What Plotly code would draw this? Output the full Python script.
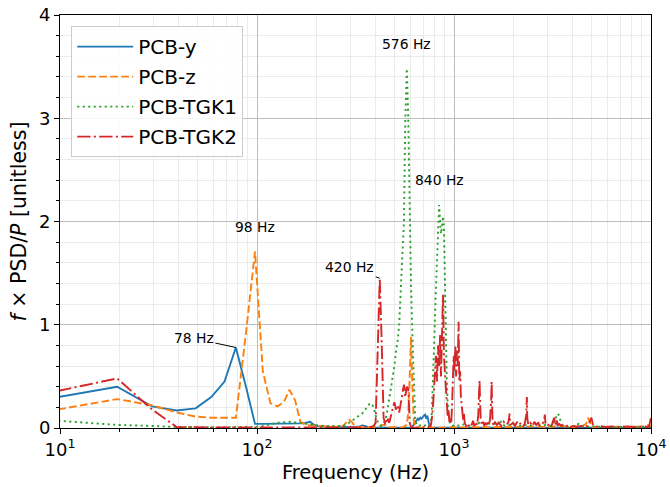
import math
import plotly.graph_objects as go

# (frequency [Hz], f x PSD / P) pairs for each channel
PCB_Y = [
    (9.8, 0.30), (19.5, 0.40), (29.3, 0.21), (39.1, 0.17), (48.8, 0.19), (58.6, 0.30),
    (68.4, 0.45), (78.1, 0.78), (87.9, 0.40), (97.7, 0.04), (107, 0.04), (117, 0.04),
    (127, 0.04), (137, 0.04), (146, 0.04), (156, 0.04), (166, 0.045), (176, 0.05),
    (186, 0.06), (195, 0.03), (205, 0.015), (225, 0.012), (254, 0.01), (283, 0.01),
    (312, 0.008), (332, 0.015), (342, 0.025), (352, 0.02), (361, 0.01), (371, 0.005),
    (391, 0.004), (430, 0.003), (488, 0.003), (547, 0.003), (605, 0.005), (615, 0.01),
    (625, 0.04), (635, 0.06), (645, 0.07), (654, 0.09), (664, 0.08), (674, 0.10),
    (684, 0.09), (693, 0.11), (703, 0.12), (713, 0.13), (723, 0.09), (732, 0.12),
    (742, 0.06), (752, 0.01), (762, 0.003), (859, 0.002), (1055, 0.002), (1500, 0.002),
    (2500, 0.002), (4000, 0.002), (6000, 0.002), (8000, 0.002), (10000, 0.002),
]

PCB_Z = [
    (9.8, 0.18), (19.5, 0.28), (29.3, 0.22), (39.1, 0.15), (48.8, 0.11), (58.6, 0.10),
    (68.4, 0.10), (78.1, 0.10), (87.9, 0.92), (97.7, 1.71), (107, 0.55), (117, 0.24),
    (127, 0.21), (137, 0.25), (146, 0.37), (156, 0.27), (166, 0.06), (176, 0.03),
    (186, 0.025), (205, 0.02), (225, 0.015), (244, 0.01), (264, 0.015), (273, 0.02),
    (283, 0.05), (293, 0.08), (303, 0.06), (312, 0.02), (322, 0.01), (342, 0.01),
    (371, 0.005), (400, 0.01), (420, 0.015), (430, 0.03), (439, 0.03), (449, 0.02),
    (469, 0.01), (508, 0.005), (547, 0.005), (576, 0.03), (586, 0.15), (596, 0.50),
    (605, 0.88), (615, 0.40), (625, 0.08), (635, 0.01), (664, 0.005), (723, 0.003),
    (801, 0.003), (898, 0.003), (1000, 0.005), (1250, 0.01), (1600, 0.008), (2000, 0.01),
    (2500, 0.015), (3000, 0.01), (3500, 0.02), (4000, 0.01), (4492, 0.02), (4688, 0.04),
    (4785, 0.10), (4883, 0.06), (4980, 0.02), (5078, 0.01), (5273, 0.005), (6000, 0.01),
    (7000, 0.008), (8000, 0.01), (9000, 0.015), (9800, 0.03), (10000, 0.01),
]

PCB_TGK1 = [
    (9.8, 0.07), (19.5, 0.03), (29.3, 0.02), (39.1, 0.01), (58.6, 0.008), (78.1, 0.008),
    (97.7, 0.01), (107, 0.02), (117, 0.035), (127, 0.05), (137, 0.055), (146, 0.06),
    (156, 0.055), (166, 0.05), (176, 0.04), (195, 0.03), (215, 0.02), (234, 0.02),
    (254, 0.015), (273, 0.02), (283, 0.03), (293, 0.05), (303, 0.07), (312, 0.08),
    (322, 0.10), (332, 0.12), (342, 0.14), (352, 0.17), (361, 0.20), (371, 0.23),
    (381, 0.24), (391, 0.20), (400, 0.12), (410, 0.06), (420, 0.03), (430, 0.02),
    (439, 0.04), (449, 0.08), (459, 0.17), (469, 0.28), (479, 0.40), (488, 0.50),
    (498, 0.60), (508, 0.75), (518, 0.85), (527, 1.00), (537, 1.30), (547, 1.60),
    (557, 2.00), (566, 3.00), (576, 3.48), (586, 3.00), (596, 2.00), (605, 1.40),
    (615, 0.90), (625, 0.40), (635, 0.10), (645, 0.03), (664, 0.02), (684, 0.03),
    (703, 0.02), (723, 0.03), (742, 0.02), (752, 0.03), (762, 0.05), (771, 0.14),
    (781, 0.40), (791, 0.75), (801, 1.10), (811, 1.40), (820, 1.75), (830, 1.95),
    (840, 2.16), (850, 2.00), (859, 1.88), (869, 1.95), (879, 2.05), (889, 1.95),
    (898, 1.40), (908, 0.90), (918, 0.50), (928, 0.25), (938, 0.12), (947, 0.07),
    (957, 0.04), (977, 0.02), (1016, 0.03), (1074, 0.02), (1133, 0.04), (1191, 0.02),
    (1270, 0.03), (1348, 0.05), (1445, 0.03), (1562, 0.05), (1660, 0.03), (1709, 0.08),
    (1758, 0.03), (1855, 0.02), (1992, 0.04), (2148, 0.02), (2344, 0.03), (2520, 0.02),
    (2637, 0.05), (2734, 0.02), (2930, 0.03), (3125, 0.02), (3223, 0.06), (3301, 0.10),
    (3359, 0.14), (3418, 0.12), (3457, 0.08), (3496, 0.05), (3555, 0.03), (3652, 0.02),
    (3809, 0.01), (4063, 0.02), (4297, 0.04), (4443, 0.02), (4590, 0.01), (5000, 0.015),
    (5566, 0.01), (6152, 0.01), (7031, 0.008), (8008, 0.01), (9004, 0.01), (10000, 0.01),
]

PCB_TGK2 = [
    (9.8, 0.36), (19.5, 0.48), (29.3, 0.18), (39.1, 0.01), (58.6, 0.005), (97.7, 0.004),
    (146, 0.003), (195, 0.004), (254, 0.003), (312, 0.004), (352, 0.005), (381, 0.01),
    (391, 0.02), (400, 0.05), (410, 0.70), (420, 1.45), (430, 0.80), (439, 0.10),
    (449, 0.03), (459, 0.10), (469, 0.05), (479, 0.12), (488, 0.20), (498, 0.25),
    (508, 0.18), (518, 0.22), (527, 0.15), (537, 0.24), (547, 0.35), (557, 0.42),
    (566, 0.30), (576, 0.40), (586, 0.38), (596, 0.05), (605, 0.01), (625, 0.005),
    (664, 0.004), (703, 0.005), (742, 0.01), (762, 0.02), (771, 0.08), (781, 0.20),
    (791, 0.35), (801, 0.55), (811, 0.70), (820, 0.45), (830, 0.80), (840, 0.60),
    (850, 0.90), (859, 0.50), (869, 0.85), (879, 1.29), (889, 0.70), (898, 0.55),
    (908, 0.35), (918, 0.25), (928, 0.12), (938, 0.18), (947, 0.06), (957, 0.10),
    (967, 0.04), (977, 0.20), (986, 0.45), (996, 0.70), (1006, 0.55), (1016, 0.80),
    (1025, 0.50), (1035, 0.75), (1045, 0.60), (1055, 1.03), (1064, 0.45), (1074, 0.55),
    (1084, 0.30), (1094, 0.20), (1104, 0.12), (1113, 0.08), (1123, 0.15), (1133, 0.05),
    (1152, 0.02), (1172, 0.04), (1191, 0.02), (1211, 0.05), (1230, 0.03), (1250, 0.07),
    (1270, 0.02), (1289, 0.06), (1309, 0.03), (1328, 0.12), (1338, 0.30), (1348, 0.46),
    (1357, 0.25), (1367, 0.08), (1387, 0.03), (1406, 0.06), (1426, 0.02), (1445, 0.05),
    (1465, 0.03), (1484, 0.07), (1504, 0.03), (1523, 0.08), (1543, 0.25), (1553, 0.45),
    (1562, 0.20), (1572, 0.05), (1592, 0.02), (1611, 0.06), (1650, 0.03), (1689, 0.05),
    (1738, 0.02), (1787, 0.06), (1836, 0.03), (1885, 0.05), (1904, 0.10), (1914, 0.14),
    (1924, 0.08), (1943, 0.03), (1992, 0.05), (2041, 0.02), (2090, 0.06), (2139, 0.03),
    (2188, 0.05), (2246, 0.02), (2285, 0.04), (2324, 0.12), (2344, 0.30), (2354, 0.10),
    (2383, 0.03), (2441, 0.05), (2500, 0.02), (2559, 0.06), (2617, 0.03), (2676, 0.05),
    (2734, 0.02), (2793, 0.04), (2861, 0.06), (2891, 0.13), (2910, 0.05), (2969, 0.02),
    (3047, 0.04), (3125, 0.02), (3184, 0.08), (3223, 0.10), (3262, 0.03), (3320, 0.08),
    (3359, 0.02), (3418, 0.04), (3516, 0.02), (3613, 0.03), (3711, 0.015), (3809, 0.03),
    (3906, 0.01), (4053, 0.02), (4199, 0.01), (4395, 0.02), (4590, 0.01), (4785, 0.02),
    (4883, 0.06), (4980, 0.10), (5078, 0.03), (5176, 0.01), (5469, 0.02), (5859, 0.01),
    (6348, 0.015), (6934, 0.01), (7617, 0.015), (8398, 0.01), (9180, 0.015), (9766, 0.01),
    (9990, 0.10),
]

SERIES = [
    ("PCB-y", PCB_Y, "#1f77b4", "solid"),
    ("PCB-z", PCB_Z, "#ff7f0e", "7.7px,3.3px"),
    ("PCB-TGK1", PCB_TGK1, "#2ca02c", "2.1px,3.4px"),
    ("PCB-TGK2", PCB_TGK2, "#d62728", "13.3px,3.3px,2.1px,3.3px"),
]

# Peak labels: (text, peak frequency, peak value, label frequency, label value, arrow offset px)
PEAKS = [
    ("78 Hz", 78.1, 0.78, None, None, (-42, -9)),
    ("98 Hz", 97.7, 1.71, 97.7, 1.95, None),
    ("420 Hz", 420, 1.45, None, None, (-30, -11)),
    ("576 Hz", 576, 3.48, 576, 3.72, None),
    ("840 Hz", 840, 2.16, 845, 2.40, None),
]

FONT = "DejaVu Sans"

fig = go.Figure()
for name, pts, color, dash in SERIES:
    f = [p[0] for p in pts]
    v = [p[1] for p in pts]
    fig.add_trace(go.Scatter(
        x=f, y=v, mode="lines", name=name, legendgroup=name,
        line=dict(color=color, width=1.9, dash=dash),
    ))

# annotation x positions on a log axis are given in log10 units
for text, f, v, lx, ly, arrow in PEAKS:
    if arrow is None:
        fig.add_annotation(x=math.log10(lx), y=ly, xref="x", yref="y", text=text,
                           showarrow=False, font=dict(size=13.9, color="black"))
    else:
        fig.add_annotation(x=math.log10(f), y=v, xref="x", yref="y", text=text,
                           showarrow=True, arrowhead=0, arrowwidth=1,
                           arrowcolor="black", ax=arrow[0], ay=arrow[1],
                           standoff=0, font=dict(size=13.9, color="black"))

minor_x = [m * 10 ** k for k in range(1, 4) for m in range(2, 10)]

fig.update_xaxes(
    type="log", range=[1, 4], automargin=False,
    tickmode="array", tickvals=[10, 100, 1000, 10000],
    ticktext=["10<sup>1</sup>", "10<sup>2</sup>", "10<sup>3</sup>", "10<sup>4</sup>"],
    ticks="outside", ticklen=5, tickwidth=1, tickcolor="black",
    showline=True, linecolor="black", linewidth=1, mirror=True,
    showgrid=True, gridcolor="#bdbdbd", gridwidth=1,
    minor=dict(tickmode="array", tickvals=minor_x, ticks="outside", ticklen=3,
               tickcolor="black", showgrid=True, gridcolor="#ebebeb", gridwidth=1),
    tickfont=dict(size=18, color="black", family=FONT),
    title=dict(text="Frequency (Hz)", font=dict(size=19.5, color="black", family=FONT),
               standoff=6),
    zeroline=False,
)
fig.update_yaxes(
    range=[0, 4], automargin=False, tickmode="array", tickvals=[0, 1, 2, 3, 4],
    ticks="outside", ticklen=5, tickwidth=1, tickcolor="black",
    showline=True, linecolor="black", linewidth=1, mirror=True,
    showgrid=True, gridcolor="#bdbdbd", gridwidth=1,
    minor=dict(dtick=0.2, tick0=0, ticks="outside", ticklen=3, tickcolor="black",
               showgrid=True, gridcolor="#ebebeb", gridwidth=1),
    tickfont=dict(size=18, color="black", family=FONT),
    title=dict(text="<i>f</i> × PSD/<i>P</i> [unitless]",
               font=dict(size=20.5, color="black", family=FONT), standoff=6),
    zeroline=False,
)

fig.update_layout(
    width=670, height=487,
    margin=dict(l=60, r=19, t=15, b=59),
    paper_bgcolor="white", plot_bgcolor="white",
    font=dict(family=FONT, color="black"),
    showlegend=True,
    legend=dict(
        x=0.019, y=0.973, xanchor="left", yanchor="top",
        bgcolor="rgba(255,255,255,0.85)", bordercolor="#cccccc", borderwidth=1,
        font=dict(size=20, color="black", family=FONT),
        tracegroupgap=1, itemwidth=56,
    ),
)

fig.write_html("out.html")
